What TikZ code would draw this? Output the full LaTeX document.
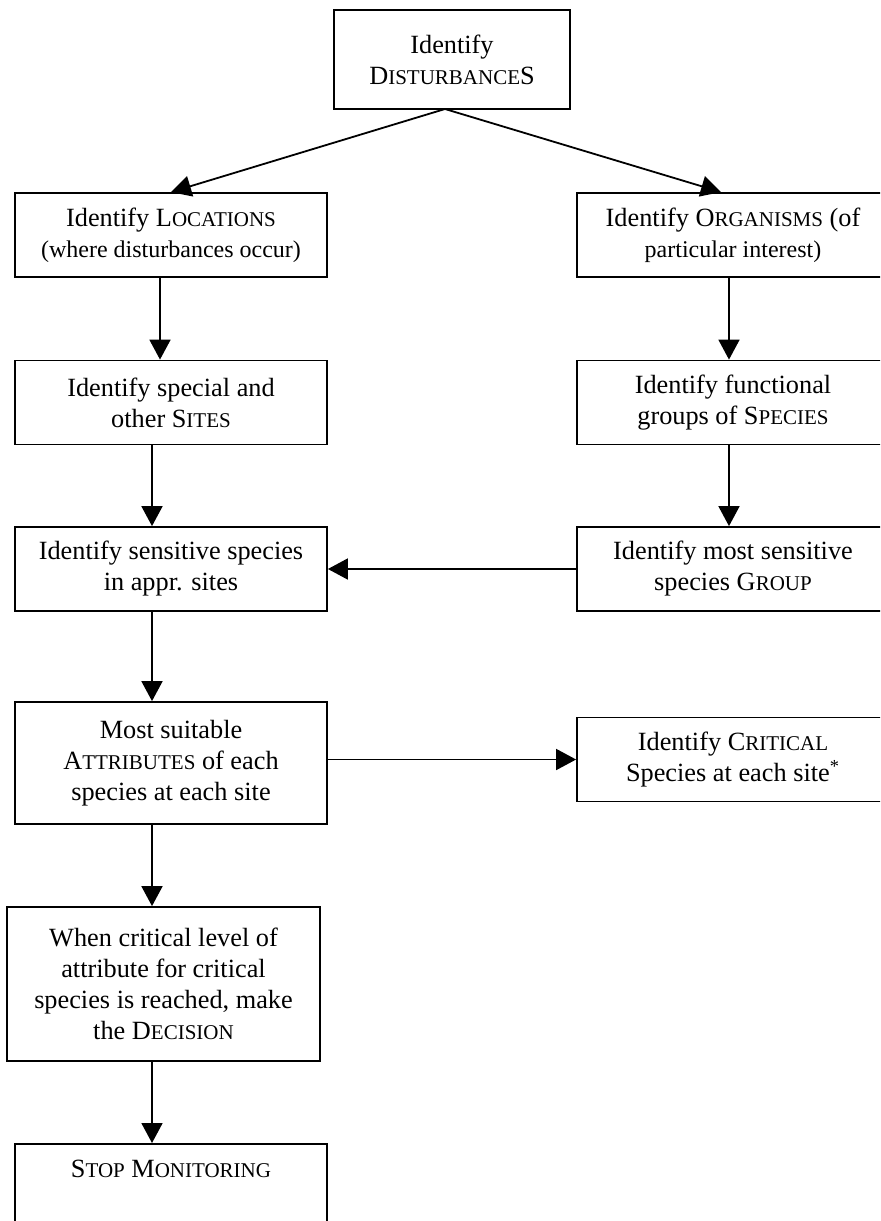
\documentclass[tikz,border=0pt]{standalone}
\usepackage{fontspec}
\setmainfont{Liberation Serif}
\usetikzlibrary{arrows.meta}
\newcommand{\capsc}[2]{#1{\fontsize{10.5pt}{15.5pt}\selectfont #2}}
\newcommand{\smline}[1]{{\fontsize{12pt}{15.5pt}\selectfont #1}}
\tikzset{
  box/.style={draw, line width=0.9pt, align=center, inner sep=2pt,
    minimum width=156pt, minimum height=42pt,
    font=\fontsize{13.15pt}{15.5pt}\selectfont},
  arr/.style={line width=0.9pt, -{Triangle[length=10pt,width=10.5pt]}}
}
\begin{document}
\begin{tikzpicture}[x=0.5pt,y=-0.5pt]
  \clip (0,0) rectangle (880,1221);

  \node[box, minimum width=118pt, minimum height=49.5pt] (dist) at (452,59.5)
    {Identify\\ \capsc{D}{ISTURBANCE}S};

  \node[box] (loc) at (171,235)
    {Identify \capsc{L}{OCATIONS}\\ \smline{(where disturbances occur)}};
  \node[box] (org) at (733,235)
    {Identify \capsc{O}{RGANISMS} (of\\ \smline{particular interest)}};

  \node[box] (sites) at (171,402.5)
    {Identify special and\\ other \capsc{S}{ITES}};
  \node[box] (func) at (733,402.5)
    {Identify functional\\ groups of \capsc{S}{PECIES}};

  \node[box] (sens) at (171,569)
    {Identify sensitive species\\ in appr. sites};
  \node[box] (group) at (733,569)
    {Identify most sensitive\\ species \capsc{G}{ROUP}};

  \node[box, minimum height=61pt] (attr) at (171,763)
    {Most suitable\\ \capsc{A}{TTRIBUTES} of each\\ species at each site};
  \node[box] (crit) at (733,759.5)
    {Identify \capsc{C}{RITICAL}\\ Species at each site\textsuperscript{*}};

  \node[box, minimum width=156.5pt, minimum height=77pt] (dec) at (163.5,984)
    {When critical level of\\ attribute for critical\\ species is reached, make\\ the \capsc{D}{ECISION}};

  \node[box, anchor=north, text height=15pt, text depth=55pt] (stop) at (171,1143)
    {\capsc{S}{TOP} \capsc{M}{ONITORING}};

  % connectors
  \coordinate (split) at (445,109);
  \coordinate (lcol) at (152,0);

  \draw[arr] (split) -- (loc.north);
  \draw[arr] (split) -- ([xshift=-6pt]org.north);
  \draw[arr] ([xshift=-5.5pt]loc.south) -- ([xshift=-5.5pt]sites.north);
  \draw[arr] (sites.south -| lcol) -- (sens.north -| lcol);
  \draw[arr] ([xshift=-2pt]org.south) -- ([xshift=-2pt]func.north);
  \draw[arr] ([xshift=-2pt]func.south) -- ([xshift=-2pt]group.north);
  \draw[arr] (group.west) -- (sens.east);
  \draw[arr] (sens.south -| lcol) -- (attr.north -| lcol);
  \draw[arr] (attr.east |- crit.west) -- (crit.west);
  \draw[arr] (attr.south -| lcol) -- (dec.north -| lcol);
  \draw[arr] (dec.south -| lcol) -- (stop.north -| lcol);
\end{tikzpicture}
\end{document}
